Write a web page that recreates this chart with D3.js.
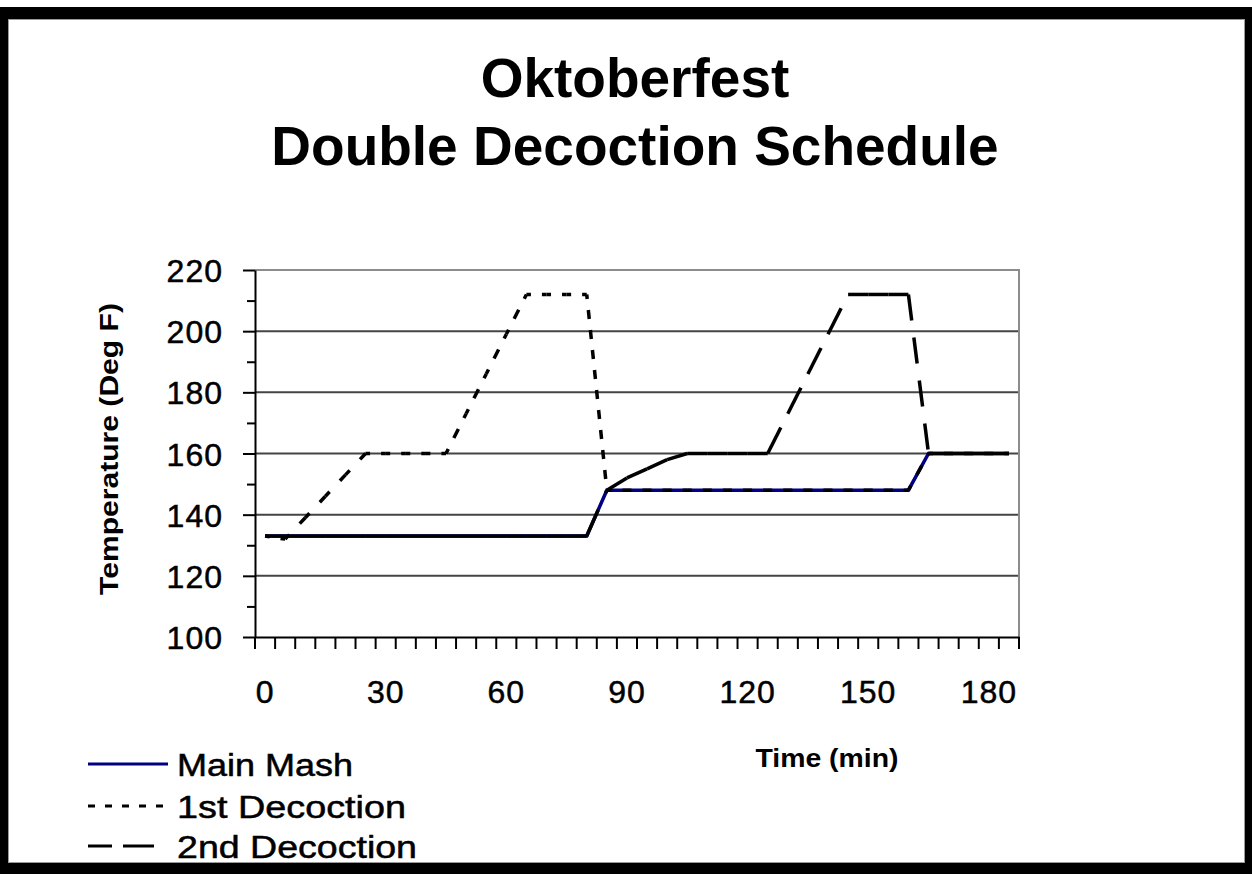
<!DOCTYPE html>
<html><head><meta charset="utf-8">
<script src="https://cdn.jsdelivr.net/npm/d3@7"></script>
<style>html,body{margin:0;padding:0;background:#fff;} svg{display:block;}</style>
</head><body><svg id="c" width="1252" height="874"></svg>
<script>
// ---- data (minutes, deg F) ----
const times = [0,5,10,15,20,25,30,35,40,45,50,55,60,65,70,75,80,85,90,95,100,105,110,115,120,125,130,135,140,145,150,155,160,165,170,175,180,185];
const mainMash = [133,133,133,133,133,133,133,133,133,133,133,133,133,133,133,133,133,
                  148,148,148,148,148,148,148,148,148,148,148,148,148,148,148,148,
                  160,160,160,160,160];
const firstDecoction = [133,132,139,146,153,160,160,160,160,160,173,186,199,212,212,212,212,
                        148,148,148,148,148,148,148,148,148,148,148,148,148,148,148,148,
                        160,160,160,160,160];
const secondDecoction = [133,133,133,133,133,133,133,133,133,133,133,133,133,133,133,133,133,
                         148,152,155,158,160,160,160,160,160,173,186,199,212,212,212,212,
                         160,160,160,160,160];
const xLabelValues = [0,30,60,90,120,150,180];
const yMajorTicks = [100,120,140,160,180,200,220];
const yMinorTicks = [110,130,150,170,190,210];
const seriesNames = ["Main Mash","1st Decoction","2nd Decoction"];
const titleLines = ["Oktoberfest","Double Decoction Schedule"];

const FONT = "'Liberation Sans', Arial, Helvetica, sans-serif";
const svg = d3.select("#c");

// frame
svg.append("rect").attr("x",0).attr("y",0).attr("width",1252).attr("height",874).attr("fill","#fff");
svg.append("path")
  .attr("d","M0,7H1252V874H0Z M8,19V863H1245V19Z")
  .attr("fill","#000").attr("fill-rule","evenodd");
svg.append("rect").attr("x",8.5).attr("y",19.5).attr("width",1236).attr("height",843)
  .attr("fill","none").attr("stroke","#9a9a9a").attr("stroke-width",1);

// titles
svg.append("g").selectAll("text").data(titleLines).join("text")
  .attr("x",635).attr("y",(d,i)=>97+i*68)
  .attr("text-anchor","middle").attr("font-family",FONT).attr("font-weight","bold")
  .attr("font-size",55).attr("fill","#000").text(d=>d);

// scales
const x = d3.scaleBand().domain(times).range([255,1019]).paddingInner(0).paddingOuter(0);
const bw = x.bandwidth();
const cx = t => x(t) + bw/2;
const y = d3.scaleLinear().domain([100,220]).range([637,270]);

// gridlines
svg.append("g").selectAll("line").data([120,140,160,180,200]).join("line")
  .attr("x1",255).attr("x2",1019).attr("y1",d=>y(d)).attr("y2",d=>y(d))
  .attr("stroke","#444").attr("stroke-width",2);
// plot border top/right
svg.append("path").attr("d",`M255,${y(220)}H1019V${y(100)}`)
  .attr("fill","none").attr("stroke","#8c8c8c").attr("stroke-width",2);

// y axis
const yAxis = svg.append("g").attr("transform","translate(255,0)")
  .call(d3.axisLeft(y).tickValues(yMajorTicks).tickSize(12).tickSizeOuter(0).tickPadding(20).tickFormat(d3.format("d")));
yAxis.select(".domain").attr("stroke","#000").attr("stroke-width",2);
yAxis.selectAll(".tick line").attr("stroke","#000").attr("stroke-width",2);
yAxis.selectAll(".tick text").attr("font-family",FONT).attr("font-size",32).attr("fill","#000")
  .attr("stroke","#000").attr("stroke-width",0.5).attr("letter-spacing",1).attr("dy","0.36em");
const yMinor = svg.append("g").attr("transform","translate(255,0)")
  .call(d3.axisLeft(y).tickValues(yMinorTicks).tickSize(8).tickSizeOuter(0).tickFormat(""));
yMinor.select(".domain").remove();
yMinor.selectAll(".tick line").attr("stroke","#000").attr("stroke-width",2);

// x axis
const xAxis = svg.append("g").attr("transform",`translate(0,${y(100)})`)
  .call(d3.axisBottom(x).tickValues(xLabelValues).tickSize(0).tickSizeOuter(0).tickPadding(43));
xAxis.select(".domain").attr("stroke","#000").attr("stroke-width",2);
xAxis.selectAll(".tick text").attr("font-family",FONT).attr("font-size",32).attr("fill","#000")
  .attr("stroke","#000").attr("stroke-width",0.5).attr("letter-spacing",1);
// x tick marks at category boundaries
const bounds = times.map(t=>x(t)).concat([x.range()[1]]);
svg.append("g").selectAll("line").data(bounds).join("line")
  .attr("x1",d=>d).attr("x2",d=>d).attr("y1",y(100)).attr("y2",y(100)+12)
  .attr("stroke","#000").attr("stroke-width",2);

// axis titles
svg.append("text").attr("transform","translate(118,449) rotate(-90)")
  .attr("text-anchor","middle").attr("font-family",FONT).attr("font-weight","bold")
  .attr("font-size",25).attr("textLength",292).attr("lengthAdjust","spacingAndGlyphs")
  .text("Temperature (Deg F)");
svg.append("text").attr("x",827).attr("y",767)
  .attr("text-anchor","middle").attr("font-family",FONT).attr("font-weight","bold")
  .attr("font-size",26).attr("textLength",143).attr("lengthAdjust","spacingAndGlyphs")
  .text("Time (min)");

// series
const pts = vals => times.map((t,i)=>[cx(t), y(vals[i])]);
const plot = svg.append("g");
plot.append("path").attr("d",d3.line()(pts(mainMash)))
  .attr("fill","none").attr("stroke","#000080").attr("stroke-width",3.5);

function dashedSeries(vals, dash, gap, offset){
  const p = pts(vals);
  const segs = d3.pairs(p).map(([a,b])=>{
    const dx=b[0]-a[0], dy=b[1]-a[1];
    const len=Math.hypot(dx,dy), major=Math.max(Math.abs(dx),Math.abs(dy));
    return {a,b,f:len/major};
  });
  plot.append("g").selectAll("line").data(segs).join("line")
    .attr("x1",d=>d.a[0]).attr("y1",d=>d.a[1]).attr("x2",d=>d.b[0]).attr("y2",d=>d.b[1])
    .attr("stroke","#000").attr("stroke-width",3.5)
    .attr("stroke-dasharray",d=>`${dash*d.f} ${gap*d.f}`)
    .attr("stroke-dashoffset",d=>offset*d.f);
}
dashedSeries(firstDecoction, 9, 11, 4.5);
dashedSeries(secondDecoction, 26, 17, 0);

// legend
const legY = [764,806,846];
const legLen = [176,229,240];
const legDash = [null,"7 10","24 11 31 99"];
const legColor = ["#000080","#000","#000"];
const leg = svg.append("g").selectAll("g").data(seriesNames).join("g");
leg.append("line").attr("x1",88).attr("x2",168).attr("y1",(d,i)=>legY[i]).attr("y2",(d,i)=>legY[i])
  .attr("stroke",(d,i)=>legColor[i]).attr("stroke-width",3)
  .attr("stroke-dasharray",(d,i)=>legDash[i]);
leg.append("text").attr("x",177).attr("y",(d,i)=>legY[i]+12)
  .attr("font-family",FONT).attr("font-size",31).attr("fill","#000")
  .attr("stroke","#000").attr("stroke-width",0.5)
  .attr("textLength",(d,i)=>legLen[i]).attr("lengthAdjust","spacingAndGlyphs")
  .text(d=>d);
</script></body></html>
